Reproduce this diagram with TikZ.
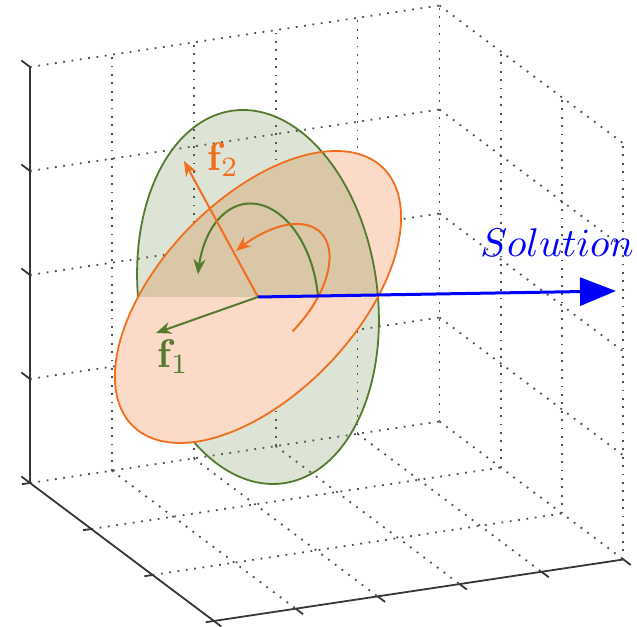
\documentclass[tikz,border=0pt]{standalone}
\usetikzlibrary{arrows.meta}
\definecolor{gline}{RGB}{84,122,46}
\definecolor{oline}{RGB}{240,110,30}
\definecolor{peach}{RGB}{251,219,199}
\definecolor{gridc}{RGB}{80,80,80}
\definecolor{axisc}{RGB}{55,55,55}
\begin{document}
\begin{tikzpicture}[x=0.25pt,y=-0.25pt,
  gridline/.style={gridc, line width=0.45pt, dash pattern=on 0.45pt off 1.65pt},
  axisline/.style={axisc, line width=0.45pt},
  gdisc/.style={gline, opacity=0.2},
  edge/.style={line width=0.45pt},
  vecarrow/.style={line width=0.5pt, -{Stealth[length=3.8pt,width=3pt]}}]
\useasboundingbox (0,0) rectangle (637,627);
% box grid
\begin{scope}[shift={(30,483)}, x={(20.475pt,3.075pt)}, y={(15.325pt,-11.5pt)}, z={(0pt,26pt)}]
  \foreach \i in {1,...,5} \draw[gridline] (\i,0,0) -- (\i,0,4);
  \foreach \j in {1,...,4} \draw[gridline] (0,0,\j) -- (5,0,\j);
  \foreach \k in {1,2,3} \draw[gridline] (5,\k,0) -- (5,\k,4);
  \foreach \j in {1,...,4} \draw[gridline] (5,0,\j) -- (5,3,\j);
  \foreach \i in {1,...,5} \draw[gridline] (\i,0,0) -- (\i,3,0);
  \foreach \k in {0,1,2} \draw[gridline] (0,\k,0) -- (5,\k,0);
  \draw[axisline] (0,0,4) -- (0,0,0) -- (0,3,0) -- (5,3,0);
  \foreach \j in {0,...,4} \draw[axisline] (0,0,\j) -- (0,-0.14,\j);
  \foreach \k in {0,...,3} \draw[axisline] (0,\k,0) -- (-0.1,\k,0);
  \foreach \i in {0,...,5} \draw[axisline] (\i,3,0) -- (\i,3.12,0);
\end{scope}
% discs
\coordinate (c) at (258,297);
\fill[gdisc] plot[domain=180:360,samples=91] ({258+120*cos(\x)-15*sin(\x)},{297-187*sin(\x)}) -- cycle;
\draw[gline, edge] plot[domain=180:360,samples=91] ({258+120*cos(\x)-15*sin(\x)},{297-187*sin(\x)});
\fill[peach] plot[domain=0:360,samples=181] ({258+120*cos(\x)+78*sin(\x)},{297-146*sin(\x)}) -- cycle;
\fill[gdisc] plot[domain=0:180,samples=91] ({258+120*cos(\x)-15*sin(\x)},{297-187*sin(\x)}) -- cycle;
\draw[gline, edge] plot[domain=0:180,samples=91] ({258+120*cos(\x)-15*sin(\x)},{297-187*sin(\x)});
\draw[oline, edge] plot[domain=0:360,samples=181] ({258+120*cos(\x)+78*sin(\x)},{297-146*sin(\x)}) -- cycle;
% rotation arcs
\draw[gline, vecarrow] plot[domain=0:166,samples=60] ({258+60*cos(\x)-7.5*sin(\x)},{297-93.5*sin(\x)});
\draw[oline, vecarrow] plot[domain=-28:141,samples=60] ({258+60*cos(\x)+39*sin(\x)},{297-73*sin(\x)});
% vectors
\coordinate (f2end) at (184,161);
\coordinate (f1end) at (156,333);
\coordinate (solend) at (616,291);
\draw[oline, vecarrow] (c) -- (f2end);
\draw[gline, vecarrow] (c) -- (f1end);
\draw[blue, line width=0.75pt, -{Triangle[length=9pt,width=7pt]}] (c) -- (solend);
\node[text=oline, inner sep=0pt] (f2) at (223,160) {$\mathbf{f}_2$};
\node[text=gline, inner sep=0pt] (f1) at (173,357) {$\mathbf{f}_1$};
\node[text=blue, inner sep=0pt] (sol) at (557,243) {$Solution$};
\end{tikzpicture}
\end{document}
